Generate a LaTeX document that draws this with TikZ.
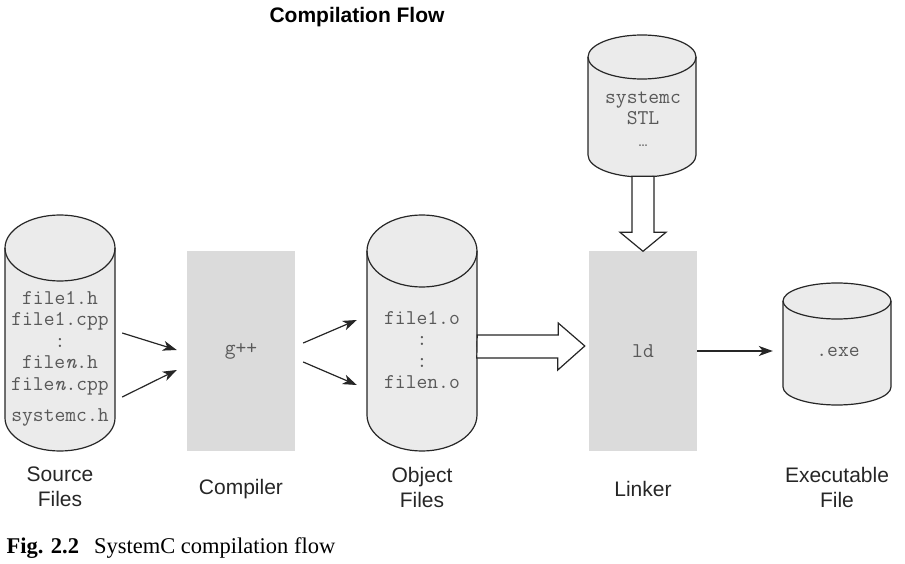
\documentclass[tikz,border=0pt]{standalone}
\usepackage{fontspec}
\setmainfont{Liberation Serif}
\setsansfont{Liberation Sans}
\newfontfamily\dotfont{Liberation Mono}
\usepackage{tikz}
\usetikzlibrary{calc,arrows.meta}

\newcommand{\codefont}{\fontsize{21}{21.5}\selectfont\ttfamily}
\newcommand{\lblfont}{\fontsize{21}{25}\selectfont\sffamily}
\newcommand{\drum}[6]{%
	\draw[drum] (#2-#5,#3+#6) -- (#2-#5,#4-#6)
		arc[start angle=180,end angle=360,x radius=#5pt,y radius=#6pt]
		-- (#2+#5,#3+#6)
		arc[start angle=0,end angle=180,x radius=#5pt,y radius=#6pt] -- cycle;
	\draw[drum,fill=none] (#2-#5,#3+#6) arc[start angle=180,end angle=360,x radius=#5pt,y radius=#6pt];
	\node[inner sep=0,minimum width=2*#5pt,minimum height=#4pt-#3pt] (#1) at (#2,{(#3+#4)/2}) {};
}
\tikzset{
	drum/.style={draw=black!85,fill=black!8,line width=1.2pt},
	tool/.style={fill=black!14,inner sep=0,minimum width=108pt,minimum height=199pt,font=\codefont,text=black!65},
	code/.style={font=\codefont,text=black!65,align=center,inner sep=0},
	lbl/.style={font=\lblfont,align=center,text=black!85},
	flow/.style={draw=black!85,line width=1.2pt,-{Stealth[length=14pt,width=10pt,inset=4pt]}},
	hollow/.style={draw=black!85,fill=white,line width=1.2pt,line join=miter}
}

\begin{document}
\begin{tikzpicture}[x=1pt,y=-1pt]
	\useasboundingbox (0,0) rectangle (905,564);
	\node[font=\lblfont\bfseries] (title) at (357,17) {Compilation Flow};

	\drum{src}{60}{215}{451}{55}{33}
	\drum{obj}{422}{215}{451}{55}{36}
	\drum{lib}{642}{35}{177}{54}{22}
	\drum{exe}{837}{283}{405}{54}{18}

	\node[tool] (cc) at (241,351) {g++};
	\node[tool] (ld) at (643,351) {ld};

	\node[code] (srctxt) at (60,359) {file1.h\\file1.cpp\\:\\file\textit{n}.h\\file\textit{n}.cpp\\[10pt]systemc.h};
	\node[code] (objtxt) at (422,350) {file1.o\\:\\:\\filen.o};
	\node[code] (libtxt) at (643,119) {systemc\\STL\\{\dotfont\fontsize{15}{15}\selectfont …}};
	\node[code] (exetxt) at (838,352) {.exe};

	\node[lbl] (srclbl) at (60,487) {Source\\Files};
	\node[lbl] (cclbl) at (241,489) {Compiler};
	\node[lbl] (objlbl) at (422,487) {Object\\Files};
	\node[lbl] (ldlbl) at (643,489) {Linker};
	\node[lbl] (exelbl) at (837,487) {Executable\\File};

	\draw[flow] ($(src.east)+(7,0)$) -- ($(cc.west)+(-10,-1)$);
	\draw[flow] ($(src.east)+(7,64)$) -- ($(cc.west)+(-10,19)$);
	\draw[flow] ($(cc.east)+(8,-8)$) -- ($(obj.west)+(-10,-13)$);
	\draw[flow] ($(cc.east)+(8,11)$) -- ($(obj.west)+(-10,52)$);
	\draw[flow] (ld.east) -- ($(ld.east -| exe.west)+(-10,0)$);

	\draw[hollow] ($(obj.east)+(0,2)$) -- ++(81,0) -- ++(0,-12) -- ($(ld.west)+(-4,-5)$)
		-- ++(-27,24) -- ++(0,-12) -- ++(-81,0) -- cycle;
	\draw[hollow] ($(ld.north)+(-11,-75)$) -- ++(0,56) -- ++(-12,0) -- (ld.north)
		-- ++(23,-19) -- ++(-12,0) -- ++(0,-56) -- cycle;

	\node[anchor=west,font=\fontsize{22.5}{26}\selectfont] (cap) at (3,548) {\textbf{Fig. 2.2}\hspace{15pt}SystemC compilation flow};
\end{tikzpicture}
\end{document}
